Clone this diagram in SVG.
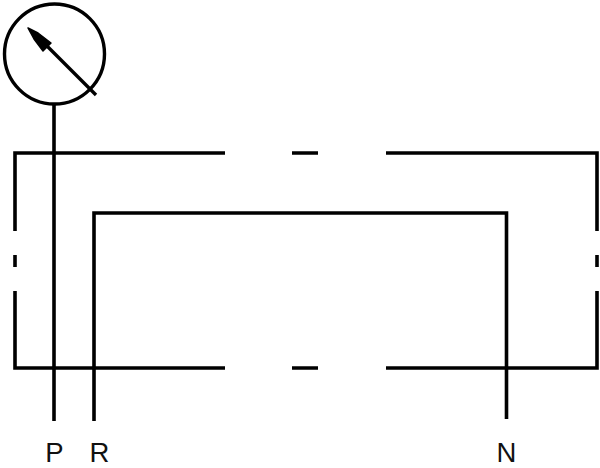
<svg xmlns="http://www.w3.org/2000/svg" width="600" height="468" viewBox="0 0 600 468">
<style>
.l{fill:none;stroke:#000;stroke-width:3.6}
.c{fill:none;stroke:#000;stroke-width:3.4}
text{font-family:"Liberation Sans",Arial,sans-serif;font-size:27.500px;fill:#111;text-anchor:middle}
</style>
<rect width="600" height="468" fill="#fff"/>
<g id="connectors">
<path class="l" d="M225 153H15V231M15 255V267M15 291V368H225"/>
<path class="l" d="M292 153H318M292 368H318"/>
<path class="l" d="M386 153H597V231M597 255V267M597 291V368H386"/>
<path class="l" d="M94 421V213H506.500V419"/>
<path class="l" d="M54 105V421"/>
</g>
<g id="meter">
<circle class="c" cx="54.500" cy="54" r="50"/>
<path class="c" d="M96 95L47 46"/>
<polygon points="28,28 38,33 51,43 43,51 34,39" fill="#000" stroke="#000" stroke-width="1.500" stroke-linejoin="round"/>
</g>
<g id="label-p"><text x="54.500" y="462">P</text></g>
<g id="label-r"><text x="99.500" y="462">R</text></g>
<g id="label-n"><text x="506.500" y="462">N</text></g>
</svg>
